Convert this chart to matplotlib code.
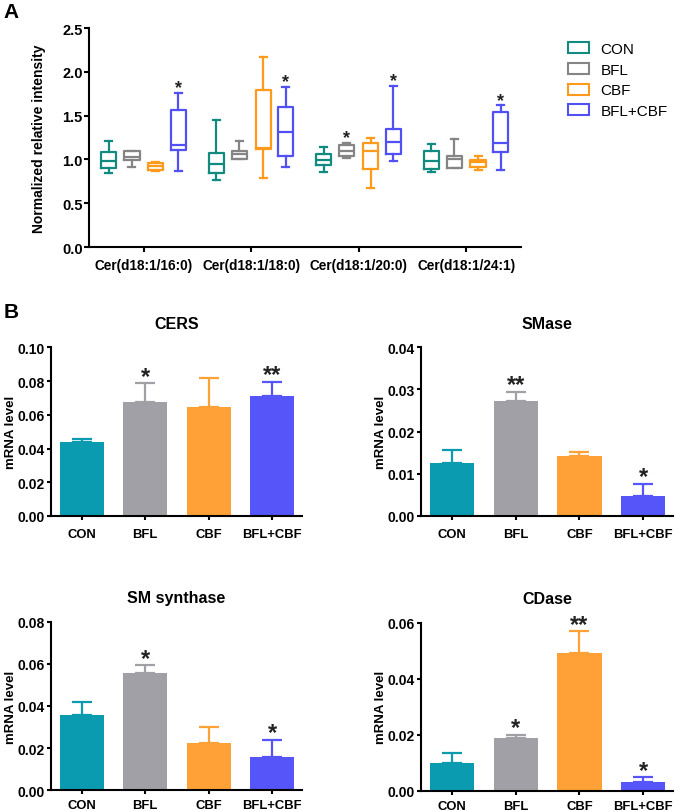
import matplotlib
matplotlib.use("Agg")
import matplotlib.pyplot as plt
from matplotlib.patches import Patch
import numpy as np

plt.rcParams['font.family'] = ['Liberation Sans', 'DejaVu Sans']

# ---------------- Data ----------------
groups = ["Cer(d18:1/16:0)", "Cer(d18:1/18:0)", "Cer(d18:1/20:0)", "Cer(d18:1/24:1)"]
treatments = ["CON", "BFL", "CBF", "BFL+CBF"]

con_whislo = [0.84, 0.76, 0.86, 0.86]
con_q1 = [0.90, 0.84, 0.94, 0.89]
con_med = [0.98, 0.95, 0.995, 0.98]
con_q3 = [1.09, 1.07, 1.06, 1.10]
con_whishi = [1.21, 1.45, 1.14, 1.18]

bfl_whislo = [0.91, 1.01, 1.02, 0.90]
bfl_q1 = [0.99, 1.01, 1.04, 0.90]
bfl_med = [1.03, 1.06, 1.10, 1.01]
bfl_q3 = [1.10, 1.10, 1.16, 1.04]
bfl_whishi = [1.10, 1.21, 1.19, 1.23]

cbf_whislo = [0.866, 0.79, 0.67, 0.874]
cbf_q1 = [0.874, 1.117, 0.889, 0.908]
cbf_med = [0.93, 1.132, 1.10, 0.965]
cbf_q3 = [0.96, 1.79, 1.185, 0.995]
cbf_whishi = [0.965, 2.17, 1.24, 1.04]

comb_whislo = [0.87, 0.91, 0.98, 0.88]
comb_q1 = [1.11, 1.04, 1.06, 1.08]
comb_med = [1.165, 1.31, 1.20, 1.185]
comb_q3 = [1.565, 1.60, 1.35, 1.54]
comb_whishi = [1.76, 1.83, 1.84, 1.62]

sig_con = [0, 0, 0, 0]
sig_bfl = [0, 0, 1, 0]
sig_cbf = [0, 0, 0, 0]
sig_comb = [1, 1, 1, 1]

box_colors = ["#128A80", "#858585", "#FF9A1A", "#5050F5"]
bar_colors = ["#0A9BB0", "#A0A0A6", "#FFA136", "#5555FA"]

genes = ["CERS", "SMase", "SM synthase", "CDase"]
cers_mean = [0.0441, 0.0674, 0.0644, 0.0711]
cers_err = [0.0014, 0.0113, 0.0174, 0.0085]
cers_sig = ["", "*", "", "**"]
smase_mean = [0.0125, 0.0272, 0.0142, 0.0047]
smase_err = [0.0032, 0.0023, 0.0009, 0.0029]
smase_sig = ["", "**", "", "*"]
sms_mean = [0.0356, 0.0557, 0.0223, 0.0157]
sms_err = [0.0065, 0.0036, 0.0077, 0.0083]
sms_sig = ["", "*", "", "*"]
cdase_mean = [0.0099, 0.0189, 0.0492, 0.0030]
cdase_err = [0.0036, 0.0010, 0.0077, 0.0018]
cdase_sig = ["", "*", "**", "*"]

# ---------------- Figure ----------------
W, H = 678, 812
fig = plt.figure(figsize=(W / 100, H / 100), dpi=100)

def frac_axes(l, t, r, b):
    return fig.add_axes([l / W, 1 - b / H, (r - l) / W, (b - t) / H])

def style_axes(ax):
    for s in ["top", "right"]:
        ax.spines[s].set_visible(False)
    for s in ["left", "bottom"]:
        ax.spines[s].set_linewidth(1.5)

# ---------------- Panel A ----------------
axA = frac_axes(89, 29, 521, 248)
style_axes(axA)
series = [
    (con_whislo, con_q1, con_med, con_q3, con_whishi, sig_con),
    (bfl_whislo, bfl_q1, bfl_med, bfl_q3, bfl_whishi, sig_bfl),
    (cbf_whislo, cbf_q1, cbf_med, cbf_q3, cbf_whishi, sig_cbf),
    (comb_whislo, comb_q1, comb_med, comb_q3, comb_whishi, sig_comb),
]
offsets = [-0.325, -0.11, 0.11, 0.32]
gx = np.arange(len(groups))
for k, (wl, q1, md, q3, wh, sg) in enumerate(series):
    stats = [dict(whislo=wl[i], q1=q1[i], med=md[i], q3=q3[i], whishi=wh[i], fliers=[])
             for i in range(len(groups))]
    c = box_colors[k]
    lw = 1.6
    axA.bxp(stats, positions=gx + offsets[k], widths=0.14, showfliers=False,
            patch_artist=False, manage_ticks=False,
            boxprops=dict(color=c, linewidth=lw),
            medianprops=dict(color=c, linewidth=lw),
            whiskerprops=dict(color=c, linewidth=lw),
            capprops=dict(color=c, linewidth=lw),
            capwidths=0.065)
    for i in range(len(groups)):
        if sg[i]:
            axA.annotate("*", (gx[i] + offsets[k], wh[i]), xytext=(0, 0.2),
                         textcoords="offset points", ha="center", va="baseline",
                         fontsize=13, fontweight="bold", color="#222222")
axA.set_xlim(-0.51, 3.51)
axA.set_ylim(0, 2.5)
axA.set_yticks(np.arange(0, 2.51, 0.5))
axA.set_yticklabels([f"{v:.1f}" for v in np.arange(0, 2.51, 0.5)])
axA.set_xticks(gx)
axA.set_xticklabels(groups)
axA.tick_params(axis="y", length=3.5, width=1.5, pad=1, labelsize=10.5)
axA.tick_params(axis="x", length=3.6, width=1.5, pad=4, labelsize=9.8)
for t in axA.get_xticklabels() + axA.get_yticklabels():
    t.set_fontweight("bold")
axA.set_ylabel("Normalized relative intensity", fontsize=10, fontweight="bold")
axA.yaxis.set_label_coords(-0.10, 0.5)

handles = [Patch(facecolor="white", edgecolor=c, linewidth=1.5) for c in box_colors]
fig.legend(handles, treatments, loc="upper left", bbox_to_anchor=(568 / W, 1 - 43 / H),
           frameon=False, fontsize=11, handlelength=1.37, handleheight=0.72,
           handletextpad=0.75, labelspacing=0.44, borderpad=0, borderaxespad=0)

fig.text(11 / W, 1 - 13 / H, "A", fontsize=15, fontweight="bold", ha="center", va="center")
fig.text(11 / W, 1 - 313 / H, "B", fontsize=15, fontweight="bold", ha="center", va="center")

# ---------------- Panel B ----------------
bar_specs = [
    (cers_mean, cers_err, cers_sig, 0.10, 0.02, (50.7, 348.3, 302, 517), 5.5),
    (smase_mean, smase_err, smase_sig, 0.04, 0.01, (421, 348.3, 673, 517), 5.5),
    (sms_mean, sms_err, sms_sig, 0.08, 0.02, (50.7, 622.7, 302, 791.3), 3.5),
    (cdase_mean, cdase_err, cdase_sig, 0.06, 0.02, (421, 623.7, 673, 791.7), 3.5),
]
bx = np.arange(len(treatments))
for gname, (mean, err, sig, ymax, step, box, xpad) in zip(genes, bar_specs):
    ax = frac_axes(*box)
    style_axes(ax)
    for i in range(len(treatments)):
        ax.errorbar(bx[i], mean[i], yerr=[[0], [err[i]]], fmt="none", ecolor=bar_colors[i],
                    elinewidth=1.6, capsize=7.5, capthick=1.6, zorder=1)
    ax.bar(bx, mean, width=0.7, color=bar_colors, zorder=2)
    for i in range(len(treatments)):
        if sig[i]:
            ax.annotate(sig[i], (bx[i], mean[i] + err[i]), xytext=(0, 0.5),
                        textcoords="offset points", ha="center", va="baseline",
                        fontsize=17, fontweight="bold", color="#222222")
    ax.set_xlim(-0.49, 3.47)
    ax.set_ylim(0, ymax)
    ticks = np.arange(0, ymax + step / 2, step)
    ax.set_yticks(ticks)
    ax.set_yticklabels([f"{v:.2f}" for v in ticks])
    ax.set_xticks(bx)
    ax.set_xticklabels(treatments)
    ax.tick_params(axis="y", length=3, width=1.5, pad=1.5, labelsize=10)
    ax.tick_params(axis="x", length=3, width=1.5, pad=xpad, labelsize=9.4)
    for t in ax.get_xticklabels() + ax.get_yticklabels():
        t.set_fontweight("bold")
    ax.set_ylabel("mRNA level", fontsize=9.5, fontweight="bold")
    ax.yaxis.set_label_coords(-0.135, 0.5)
    ax.set_title(gname, fontsize=11.5, fontweight="bold", pad=14)

fig.savefig("out.png", dpi=100)
